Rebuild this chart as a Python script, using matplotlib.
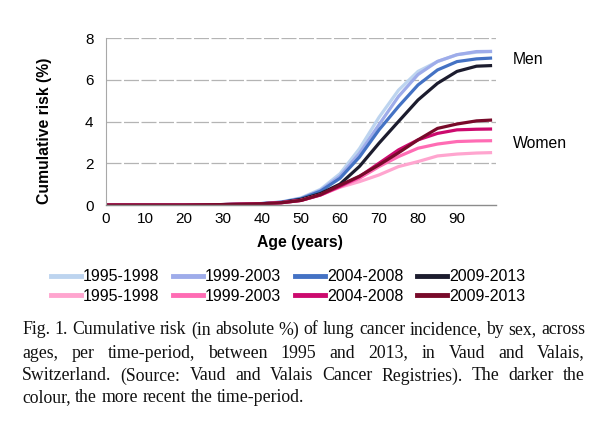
import matplotlib
matplotlib.use("Agg")
import matplotlib.pyplot as plt
from matplotlib.lines import Line2D


# =========================================================
# DATOS
# =========================================================

ages = [0, 5, 10, 15, 20, 25, 30, 35, 40, 45, 50, 55, 60, 65, 70, 75, 80, 85, 90, 95, 99]

men_1995 = [0, 0, 0, 0, 0, 0.01, 0.02, 0.04, 0.07, 0.15, 0.34, 0.75, 1.50, 2.70, 4.20, 5.50, 6.40, 6.87, 7.20, 7.32, 7.35]
men_1999 = [0, 0, 0, 0, 0, 0.01, 0.02, 0.04, 0.07, 0.14, 0.32, 0.70, 1.38, 2.48, 3.85, 5.20, 6.25, 6.88, 7.20, 7.35, 7.36]
men_2004 = [0, 0, 0, 0, 0, 0.01, 0.02, 0.04, 0.07, 0.13, 0.30, 0.66, 1.28, 2.30, 3.60, 4.72, 5.75, 6.47, 6.87, 7.00, 7.04]
men_2009 = [0, 0, 0, 0, 0, 0.01, 0.02, 0.04, 0.06, 0.12, 0.27, 0.55, 1.00, 1.85, 2.96, 4.00, 5.03, 5.83, 6.40, 6.65, 6.68]

women_1995 = [0, 0, 0, 0, 0, 0.01, 0.02, 0.04, 0.06, 0.11, 0.22, 0.48, 0.85, 1.12, 1.44, 1.84, 2.08, 2.35, 2.44, 2.49, 2.51]
women_1999 = [0, 0, 0, 0, 0, 0.01, 0.02, 0.04, 0.06, 0.11, 0.22, 0.48, 0.87, 1.28, 1.84, 2.32, 2.72, 2.92, 3.04, 3.07, 3.08]
women_2004 = [0, 0, 0, 0, 0, 0.01, 0.02, 0.04, 0.06, 0.11, 0.22, 0.48, 0.90, 1.36, 2.00, 2.64, 3.12, 3.43, 3.60, 3.63, 3.64]
women_2009 = [0, 0, 0, 0, 0, 0.01, 0.02, 0.04, 0.06, 0.11, 0.22, 0.50, 0.95, 1.38, 1.92, 2.50, 3.12, 3.67, 3.88, 4.03, 4.07]

periods = ["1995-1998", "1999-2003", "2004-2008", "2009-2013"]

men_colors = ["#bdd4ef", "#9eacea", "#4472c4", "#1c1c2e"]
women_colors = ["#ffa5cf", "#ff6cb4", "#cc0a6e", "#780a2a"]

caption_lines = [
    "Fig. 1. Cumulative risk (in absolute %) of lung cancer incidence, by sex, across",
    "ages, per time-period, between 1995 and 2013, in Vaud and Valais,",
    "Switzerland. (Source: Vaud and Valais Cancer Registries). The darker the",
    "colour, the more recent the time-period.",
]


# =========================================================
# FIGURA
# =========================================================

W, H = 595, 421
fig = plt.figure(figsize=(W / 100, H / 100), dpi=100)
fig.patch.set_facecolor("white")

sans = ["Liberation Sans", "DejaVu Sans"]
serif = ["Liberation Serif", "DejaVu Serif"]

ax = fig.add_axes([106 / W, 1 - 205 / H, (496 - 106) / W, (205 - 38) / H])

men = [men_1995, men_1999, men_2004, men_2009]
women = [women_1995, women_1999, women_2004, women_2009]

for serie, color in zip(men, men_colors):
    ax.plot(ages, serie, color=color, lw=2.3, solid_joinstyle="round",
            solid_capstyle="butt")

for serie, color in zip(women, women_colors):
    ax.plot(ages, serie, color=color, lw=2.3, solid_joinstyle="round",
            solid_capstyle="butt")

ax.set_xlim(0, 100)
ax.set_ylim(0, 8)
ax.set_xticks(range(0, 100, 10))
ax.set_yticks(range(0, 9, 2))

for y in [2, 4, 6, 8]:
    ax.axhline(y, color="#b4b4b4", lw=0.9, dashes=(12, 2), zorder=0)

for side in ["top", "right"]:
    ax.spines[side].set_visible(False)
ax.spines["left"].set_color("#a8a8a8")
ax.spines["bottom"].set_color("#8c8c8c")
ax.spines["bottom"].set_linewidth(1.0)

ax.tick_params(length=0, labelsize=11, pad=5)
for lab in ax.get_xticklabels() + ax.get_yticklabels():
    lab.set_family(sans)

ax.tick_params(axis="y", pad=9)

fig.text(45 / W, 1 - 131 / H, "Cumulative risk (%)", rotation=90,
         ha="center", va="center", fontsize=11.3, fontweight="bold",
         family=sans)
fig.text(300 / W, 1 - 242 / H, "Age (years)", ha="center", va="center",
         fontsize=11.3, fontweight="bold", family=sans)

fig.text(513 / W, 1 - 60 / H, "Men", ha="left", va="center",
         fontsize=11.3, family=sans)
fig.text(513 / W, 1 - 143 / H, "Women", ha="left", va="center",
         fontsize=11.3, family=sans)


# =========================================================
# LEYENDA
# =========================================================

handles = []
labels = []
for i in range(4):
    handles.append(Line2D([], [], color=men_colors[i], lw=3.5))
    labels.append(periods[i])
    handles.append(Line2D([], [], color=women_colors[i], lw=3.5))
    labels.append(periods[i])

leg = fig.legend(
    handles, labels,
    ncol=4,
    loc="center",
    bbox_to_anchor=(288 / W, 1 - 286.5 / H),
    frameon=False,
    prop={"family": sans, "size": 11.5},
    handlelength=1.9,
    handletextpad=0.1,
    columnspacing=0.85,
    labelspacing=0.3,
    borderpad=0,
)


# =========================================================
# PIE DE FIGURA (justificado)
# =========================================================

fig.canvas.draw()
renderer = fig.canvas.get_renderer()

left_px, right_px = 22, 585
line_y = [330, 353, 376, 398]

# tamaño de letra para que la primera línea ocupe el ancho con espacios normales
probe = fig.text(0, 0, caption_lines[0], fontsize=12, family=serif)
ancho = probe.get_window_extent(renderer).width
probe.remove()
cap_size = 12 * (right_px - left_px) / ancho

for k, (line, y) in enumerate(zip(caption_lines, line_y)):
    words = line.split(" ")
    objs = []
    widths = []
    for w in words:
        t = fig.text(0, 1 - y / H, w, ha="left", va="center",
                     fontsize=cap_size, family=serif, color="#111111")
        objs.append(t)
        widths.append(t.get_window_extent(renderer).width)
    space = fig.text(0, 0, "a a", fontsize=cap_size, family=serif)
    sp = space.get_window_extent(renderer).width
    aa = fig.text(0, 0, "aa", fontsize=cap_size, family=serif)
    sp -= aa.get_window_extent(renderer).width
    space.remove()
    aa.remove()
    if k < len(caption_lines) - 1:
        gap = (right_px - left_px - sum(widths)) / (len(words) - 1)
    else:
        gap = sp
    x = left_px
    for t, wd in zip(objs, widths):
        t.set_x(x / W)
        x += wd + gap

fig.savefig("out.png", dpi=100)
